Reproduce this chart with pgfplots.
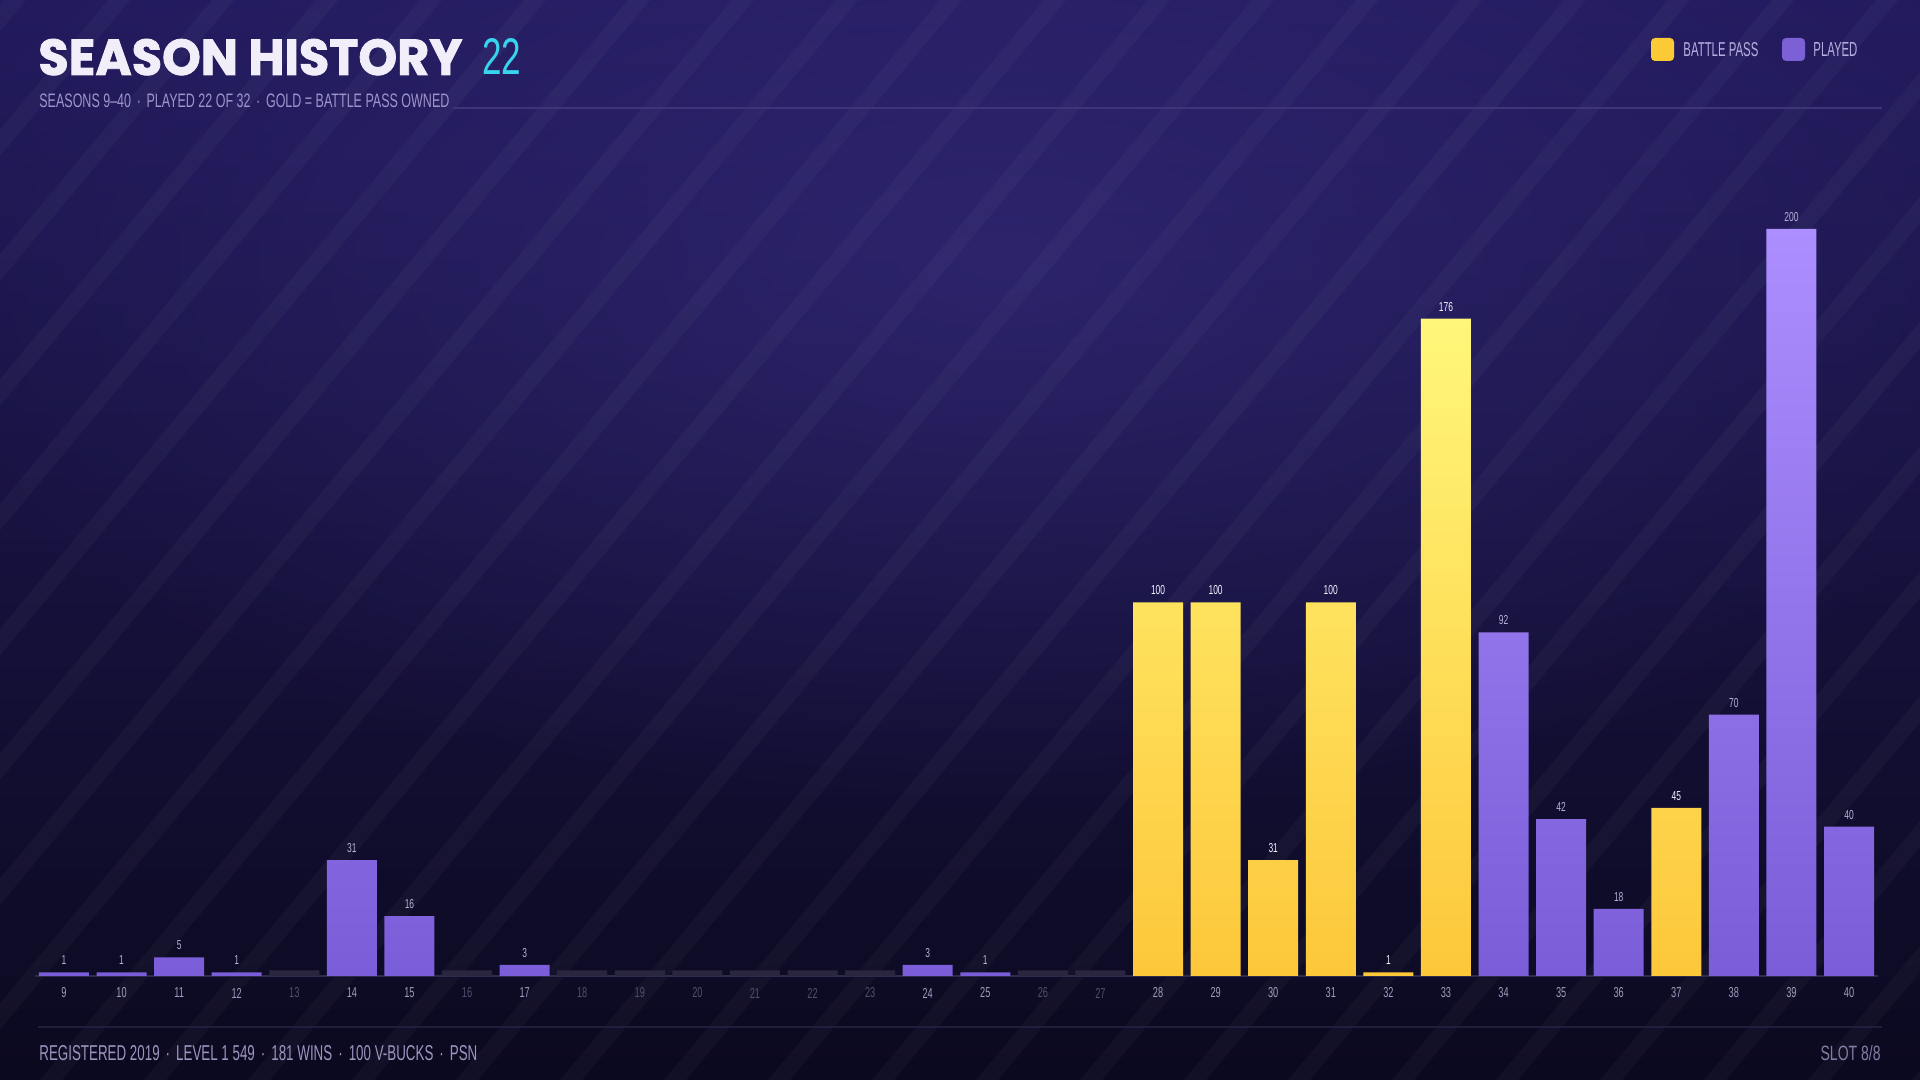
\documentclass[border=0pt]{standalone}
\usepackage{pgfplots}
\pgfplotsset{compat=1.18}
\usetikzlibrary{fadings}
\usepackage{fontspec}
\usepackage{graphicx}
\setmainfont{Liberation Sans}
\newfontfamily\titlefont{Poppins}[BoldFeatures={FakeBold=1.6}]
\newfontfamily\condfont{Liberation Sans}
\definecolor{bgtop}{HTML}{221A5C}
\definecolor{bgmid}{HTML}{17113F}
\definecolor{bgbot}{HTML}{0B091F}
\definecolor{glow}{HTML}{3A2F85}
\definecolor{titlewhite}{HTML}{F1EEFA}
\definecolor{cyanacc}{HTML}{38D4EE}
\definecolor{subtxt}{HTML}{9E95CC}
\definecolor{legtxt}{HTML}{B6AEE0}
\definecolor{foottxt}{HTML}{9C95BF}
\definecolor{slottxt}{HTML}{837DA5}
\definecolor{hdrline}{HTML}{3D3577}
\definecolor{ftline}{HTML}{221D3D}
\definecolor{axline}{HTML}{2F2A4C}
\definecolor{goldtop}{HTML}{FFF77A}
\definecolor{goldbot}{HTML}{FDC73A}
\definecolor{goldleg}{HTML}{FCCA35}
\definecolor{purtop}{HTML}{AC8EFF}
\definecolor{purbot}{HTML}{7A5DD8}
\definecolor{purleg}{HTML}{7B60D6}
\definecolor{stub}{HTML}{2A2640}
\definecolor{ticktxt}{HTML}{A09AC0}
\definecolor{tickdim}{HTML}{524D6F}
\definecolor{vallav}{HTML}{B9B0DC}
\definecolor{valwhite}{HTML}{F4F0FF}
\tikzfading[name=glowfade, inner color=transparent!0, outer color=transparent!100]
\newcommand\tk[1]{\scalebox{0.64}[1]{#1}}
\newcommand\tz[1]{\textcolor{tickdim}{\scalebox{0.64}[1]{#1}}}
\newcommand\dt{\hspace{0.45em}·\hspace{0.45em}}
\begin{document}
\begin{tikzpicture}
\begin{scope}[x=0.5pt, y=-0.5pt, yshift=540pt]
\useasboundingbox (0,0) rectangle (1920,1080);
\shade[top color=bgtop, middle color=bgmid, bottom color=bgbot] (0,0) rectangle (1920,1080);
\begin{scope}
\clip (0,0) rectangle (1920,1080);
\fill[glow, opacity=0.55, path fading=glowfade] (1000,260) ellipse (1150 and 560);
\foreach \i in {-1000,-896,...,1920} {
  \fill[white, opacity=0.03] (\i,1080) -- ++(22,0) -- ++(900,-1080) -- ++(-22,0) -- cycle;
}
\end{scope}
% header
\node[anchor=base west, inner sep=0] at (38,75) {\color{titlewhite}\resizebox{212pt}{18pt}{\titlefont\bfseries SEASON HISTORY}};
\node[anchor=base west, inner sep=0] at (482,75) {\color{cyanacc}\resizebox{19.5pt}{18pt}{\condfont 22}};
\draw[hdrline, line width=0.8pt] (453,108) -- (1882,108);
\node[anchor=base west, inner sep=0] at (39,108) {\color{subtxt}\resizebox{205pt}{6.8pt}{\condfont SEASONS 9–40\dt PLAYED 22 OF 32\dt GOLD = BATTLE PASS OWNED}};
% legend
\fill[goldleg, rounded corners=2pt] (1651,38) rectangle (1674,61);
\node[anchor=base west, inner sep=0] at (1683,57) {\color{legtxt}\resizebox{37.5pt}{7pt}{\condfont BATTLE PASS}};
\fill[purleg, rounded corners=2pt] (1782,38) rectangle (1805,61);
\node[anchor=base west, inner sep=0] at (1813,57) {\color{legtxt}\resizebox{22pt}{7pt}{\condfont PLAYED}};
% footer
\draw[ftline, line width=0.8pt] (38,1027) -- (1882,1027);
\node[anchor=base west, inner sep=0] at (39,1061) {\color{foottxt}\resizebox{219pt}{7.5pt}{\condfont REGISTERED 2019\dt LEVEL 1 549\dt 181 WINS\dt 100 V-BUCKS\dt PSN}};
\node[anchor=base east, inner sep=0] at (1881,1061) {\color{slottxt}\resizebox{30pt}{7.5pt}{\condfont SLOT 8/8}};
\end{scope}
% chart
\begin{axis}[
  at={(17.6pt,52pt)}, anchor=south west,
  scale only axis, width=921.3pt, height=373.5pt,
  xmin=8.5, xmax=40.5, ymin=0, ymax=200,
  enlargelimits=false, clip=false,
  axis y line=none,
  axis x line=bottom,
  x axis line style={-, draw=axline, line width=1pt},
  major tick length=0pt,
  xtick={9,...,40},
  xticklabels={\tk{9},\tk{10},\tk{11},\tk{12},\tz{13},\tk{14},\tk{15},\tz{16},\tk{17},\tz{18},\tz{19},\tz{20},\tz{21},\tz{22},\tz{23},\tk{24},\tk{25},\tz{26},\tz{27},\tk{28},\tk{29},\tk{30},\tk{31},\tk{32},\tk{33},\tk{34},\tk{35},\tk{36},\tk{37},\tk{38},\tk{39},\tk{40}},
  xticklabel style={anchor=center, yshift=-8.5pt, inner sep=0pt, font=\condfont\fontsize{7.2pt}{7.2pt}\selectfont, text=ticktxt},
  /pgf/number format/assume math mode=true,
  every node near coord/.style={anchor=center, yshift=6pt, inner sep=0pt, font=\condfont\fontsize{6.5pt}{6.5pt}\selectfont},
]
\addplot[ybar, bar width=25pt, bar shift=0pt, draw=none, fill=stub] coordinates {
(13,1.5)(16,1.5)(18,1.5)(19,1.5)(20,1.5)(21,1.5)(22,1.5)(23,1.5)(26,1.5)(27,1.5)};
\addplot[ybar, bar width=25pt, bar shift=0pt, draw=none, top color=purtop, bottom color=purbot,
  nodes near coords={\scalebox{0.65}[1]{\pgfmathprintnumber{\pgfplotspointmeta}}},
  every node near coord/.append style={text=vallav}] coordinates {
(9,1)(10,1)(11,5)(12,1)(14,31)(15,16)(17,3)(24,3)(25,1)(34,92)(35,42)(36,18)(38,70)(39,200)(40,40)};
\addplot[ybar, bar width=25pt, bar shift=0pt, draw=none, top color=goldtop, bottom color=goldbot,
  nodes near coords={\scalebox{0.65}[1]{\pgfmathprintnumber{\pgfplotspointmeta}}},
  every node near coord/.append style={text=valwhite}] coordinates {
(28,100)(29,100)(30,31)(31,100)(32,1)(33,176)(37,45)};
\end{axis}
\end{tikzpicture}
\end{document}
